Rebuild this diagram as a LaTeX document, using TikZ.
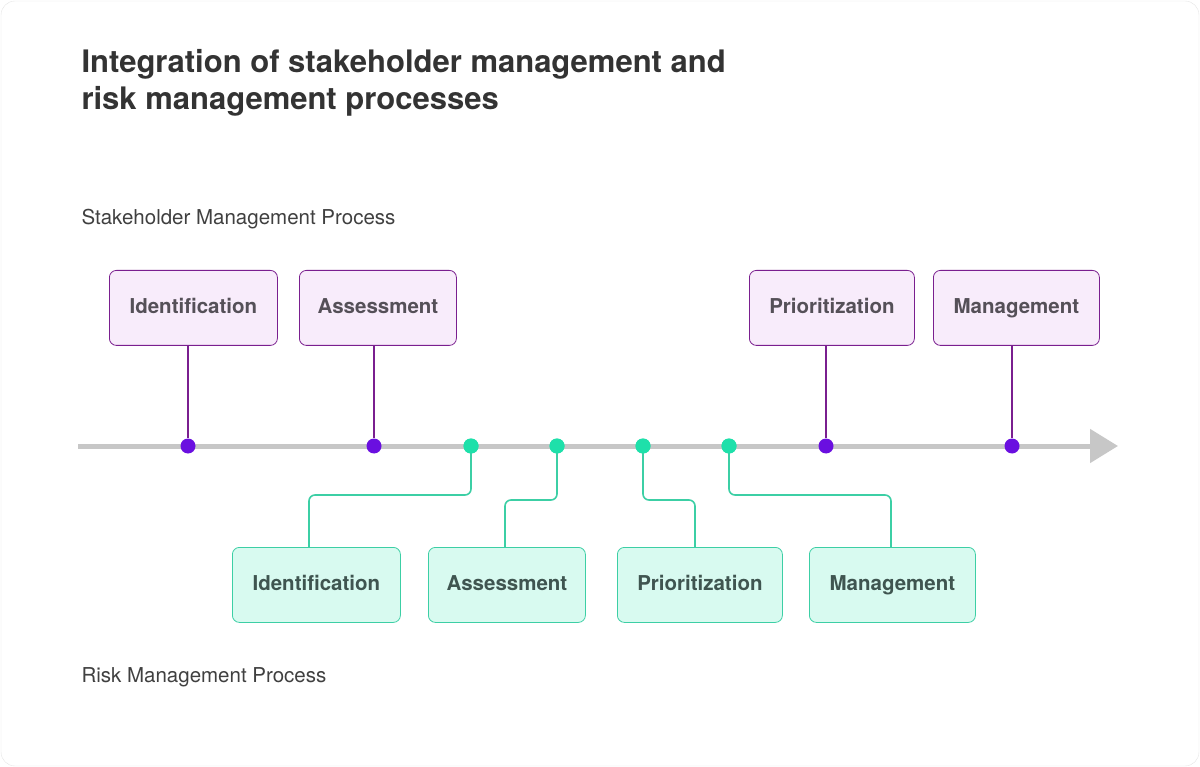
\documentclass[tikz,border=0pt]{standalone}
\usepackage{fontspec}
\setmainfont{TeX Gyre Heros}
\usetikzlibrary{arrows.meta}
\definecolor{pfill}{HTML}{F8ECFB}
\definecolor{pline}{HTML}{7A1F8F}
\definecolor{pdot}{HTML}{6A0FE0}
\definecolor{gfill}{HTML}{D8FAF0}
\definecolor{gline}{HTML}{3CCFA5}
\definecolor{gdot}{HTML}{1EE0AA}
\definecolor{txt}{HTML}{555058}
\definecolor{gtxt}{HTML}{3F5550}
\begin{document}
\begin{tikzpicture}[x=1pt,y=-1pt,
  bx/.style={rounded corners=7pt,line width=0.8pt,inner sep=0pt,anchor=north west,font=\fontsize{20.5}{24}\selectfont\bfseries,text height=15pt,text depth=4pt,minimum height=75pt},
  pbox/.style={bx,draw=pline,fill=pfill,text=txt},
  gbox/.style={bx,draw=gline,fill=gfill,text=gtxt},
  pcon/.style={pline,line width=1.6pt},
  gcon/.style={gline,line width=1.6pt,rounded corners=6pt},
  pd/.style={circle,fill=pdot,inner sep=0pt,minimum size=15pt},
  gd/.style={circle,fill=gdot,inner sep=0pt,minimum size=15pt}]
\useasboundingbox (0,0) rectangle (1200,767);
\draw[draw=black!10,fill=white,rounded corners=14pt] (1,1) rectangle (1199,766);
\node[anchor=north west,align=left,font=\fontsize{31}{37}\selectfont\bfseries,text=black!80] (title) at (78,46) {Integration of stakeholder management and\\risk management processes};
\node[anchor=west,font=\fontsize{20.5}{24}\selectfont,text=black!75] (sl) at (78,219) {Stakeholder Management Process};
\node[anchor=west,font=\fontsize{20.5}{24}\selectfont,text=black!75] (rl) at (78,677) {Risk Management Process};
\coordinate (a0) at (78,446);
\coordinate (a1) at (1118,446);
\draw[black!22,line width=5pt,-{Triangle[length=28pt,width=33pt]}] (a0) -- (a1);
\node[pbox,minimum width=168pt] (p1) at (109,270) {Identification};
\node[pbox,minimum width=157pt] (p2) at (299,270) {Assessment};
\node[pbox,minimum width=165pt] (p3) at (749,270) {Prioritization};
\node[pbox,minimum width=166pt] (p4) at (933,270) {Management};
\node[pd] (pd1) at (188,446) {};
\node[pd] (pd2) at (374,446) {};
\node[pd] (pd3) at (826,446) {};
\node[pd] (pd4) at (1012,446) {};
\draw[pcon] (p1.south -| pd1) -- (pd1);
\draw[pcon] (p2.south -| pd2) -- (pd2);
\draw[pcon] (p3.south -| pd3) -- (pd3);
\draw[pcon] (p4.south -| pd4) -- (pd4);
\node[gbox,minimum width=168pt] (g1) at (232,547) {Identification};
\node[gbox,minimum width=157pt] (g2) at (428,547) {Assessment};
\node[gbox,minimum width=165pt] (g3) at (617,547) {Prioritization};
\node[gbox,minimum width=166pt] (g4) at (809,547) {Management};
\node[gd] (gd1) at (471,446) {};
\node[gd] (gd2) at (557,446) {};
\node[gd] (gd3) at (643,446) {};
\node[gd] (gd4) at (729,446) {};
\draw[gcon] (gd1.center) -- (471,495) -- (309,495) -- (309,547);
\draw[gcon] (gd2.center) -- (557,500) -- (505,500) -- (505,547);
\draw[gcon] (gd3.center) -- (643,500) -- (695,500) -- (695,547);
\draw[gcon] (gd4.center) -- (729,495) -- (891,495) -- (891,547);
\node[gd] at (gd1) {};\node[gd] at (gd2) {};\node[gd] at (gd3) {};\node[gd] at (gd4) {};
\end{tikzpicture}
\end{document}
